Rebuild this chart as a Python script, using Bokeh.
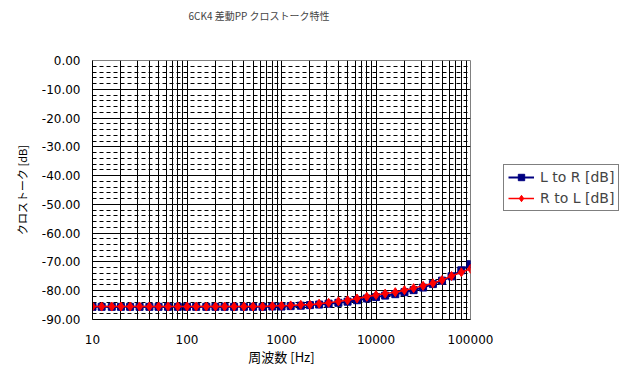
from bokeh.plotting import figure
from bokeh.layouts import row
from bokeh.models import (Range1d, FixedTicker, PrintfTickFormatter, Legend, LegendItem,
                          ColumnDataSource, Grid, Title)
from bokeh.embed import file_html
from bokeh.resources import INLINE

# ---- data ----
freq = [10, 12.5, 16, 20, 25, 31.5, 40, 50, 63, 80,
        100, 125, 160, 200, 250, 315, 400, 500, 630, 800,
        1000, 1250, 1600, 2000, 2500, 3150, 4000, 5000, 6300, 8000,
        10000, 12500, 16000, 20000, 25000, 31500, 40000, 50000, 63000, 80000,
        100000, 125000]
l_to_r = [-85.6] * 19 + [-85.5, -85.5, -85.35, -85.2, -85.0, -84.8, -84.5, -84.2, -83.8,
                         -83.3, -82.7, -82.2, -81.7, -81.2, -80.5, -79.8, -78.9, -77.7,
                         -76.5, -75.0, -72.9, -70.8, -65.0]
r_to_l = [-85.5] * 19 + [-85.35, -85.2, -85.1, -84.9, -84.9, -84.5, -84.2, -83.7, -83.3,
                         -82.7, -82.1, -81.5, -81.0, -80.5, -79.8, -79.1, -78.3, -77.4,
                         -76.3, -74.9, -73.6, -72.4, -70.6]
x_major = [10, 100, 1000, 10000, 100000]
x_minor = [m * d for d in [10, 100, 1000, 10000] for m in range(2, 10)]
y_major = list(range(-90, 1, 10))
y_minor = [v for v in range(-90, 1, 2) if v % 10 != 0]

title = "6CK4 差動PP クロストーク特性"
x_title = "周波数 [Hz]"
y_title = "クロストーク [dB]"
labels = ["L to R [dB]", "R to L [dB]"]

JP = "Noto Sans CJK JP"
NUM = "DejaVu Sans"

p = figure(frame_width=378, frame_height=259, x_axis_type="log", output_backend="svg",
           toolbar_location=None, x_range=Range1d(10, 100000), y_range=Range1d(-90, 0),
           min_border_left=92, min_border_right=26, min_border_top=60, min_border_bottom=60,
           title=None)

# spacer title (closest to frame) then the real title above it
p.add_layout(Title(text=" ", text_font_size="1px", standoff=30), "above")
p.add_layout(Title(text=title, text_font=JP, text_font_size="10px", text_font_style="normal",
                   align="left", offset=96, standoff=10), "above")

p.outline_line_color = "#808080"
p.background_fill_color = "white"

# grids
p.xgrid.ticker = FixedTicker(ticks=x_major + x_minor)
p.xgrid.grid_line_color = "black"
p.xgrid.grid_line_width = 1
p.ygrid.ticker = FixedTicker(ticks=y_major)
p.ygrid.grid_line_color = "black"
yminor = Grid(dimension=1, ticker=FixedTicker(ticks=y_minor), grid_line_color="black",
              grid_line_dash="4 3", grid_line_width=1)
p.add_layout(yminor)

# axes
for ax in (p.xaxis[0], p.yaxis[0]):
    ax.axis_line_color = "black"
    ax.major_tick_line_color = None
    ax.minor_tick_line_color = None
    ax.major_tick_out = 0
    ax.major_tick_in = 0
    ax.minor_tick_out = 0
    ax.minor_tick_in = 0
    ax.major_label_text_font = NUM
    ax.major_label_text_font_size = "12px"
    ax.major_label_text_color = "black"
    ax.axis_label_text_font = JP
    ax.axis_label_text_font_style = "normal"
    ax.axis_label_text_color = "black"

p.xaxis.ticker = FixedTicker(ticks=x_major)
p.xaxis.formatter = PrintfTickFormatter(format="%d")
p.xaxis.major_label_standoff = 15
p.xaxis.axis_label = x_title
p.xaxis.axis_label_text_font_size = "13px"
p.xaxis.axis_label_standoff = 0
p.yaxis.ticker = FixedTicker(ticks=y_major)
p.yaxis.formatter = PrintfTickFormatter(format="%.2f")
p.yaxis.major_label_standoff = 12
p.yaxis.axis_label = y_title
p.yaxis.axis_label_text_font_size = "11px"
p.yaxis.axis_label_standoff = 9

src = ColumnDataSource(dict(f=freq, lr=l_to_r, rl=r_to_l))
line_lr = dict(line_color="#000080", line_width=2)
mark_lr = dict(marker="square", size=7, fill_color="#000080", line_color="#000080")
line_rl = dict(line_color="#ff0000", line_width=1.5)
mark_rl = dict(marker="diamond", size=9, fill_color="#ff0000", line_color="#ff0000")

p.line("f", "lr", source=src, **line_lr)
p.scatter("f", "lr", source=src, **mark_lr)
p.line("f", "rl", source=src, **line_rl)
p.scatter("f", "rl", source=src, **mark_rl)

# legend panel: a second, axis-less figure beside the chart
q = figure(width=140, height=379, output_backend="svg", toolbar_location=None,
           x_axis_location=None, y_axis_location=None, x_range=Range1d(0, 1),
           y_range=Range1d(0, 1), min_border=0)
q.outline_line_color = None
q.grid.visible = False
q.background_fill_color = "white"
g1 = q.line("f", "lr", source=src, **line_lr)
g2 = q.scatter("f", "lr", source=src, **mark_lr)
g3 = q.line("f", "rl", source=src, **line_rl)
g4 = q.scatter("f", "rl", source=src, **mark_rl)

legend = Legend(items=[LegendItem(label=labels[0], renderers=[g1, g2]),
                       LegendItem(label=labels[1], renderers=[g3, g4])],
                location=(7, 108), label_text_font=NUM, label_text_font_size="14px",
                glyph_width=26, glyph_height=16, label_height=16, label_standoff=6,
                padding=4, spacing=5, margin=0,
                border_line_color="black", border_line_width=1,
                background_fill_color="white", background_fill_alpha=1)
q.add_layout(legend)

layout = row(p, q)
open("out.html", "w").write(file_html(layout, INLINE))
